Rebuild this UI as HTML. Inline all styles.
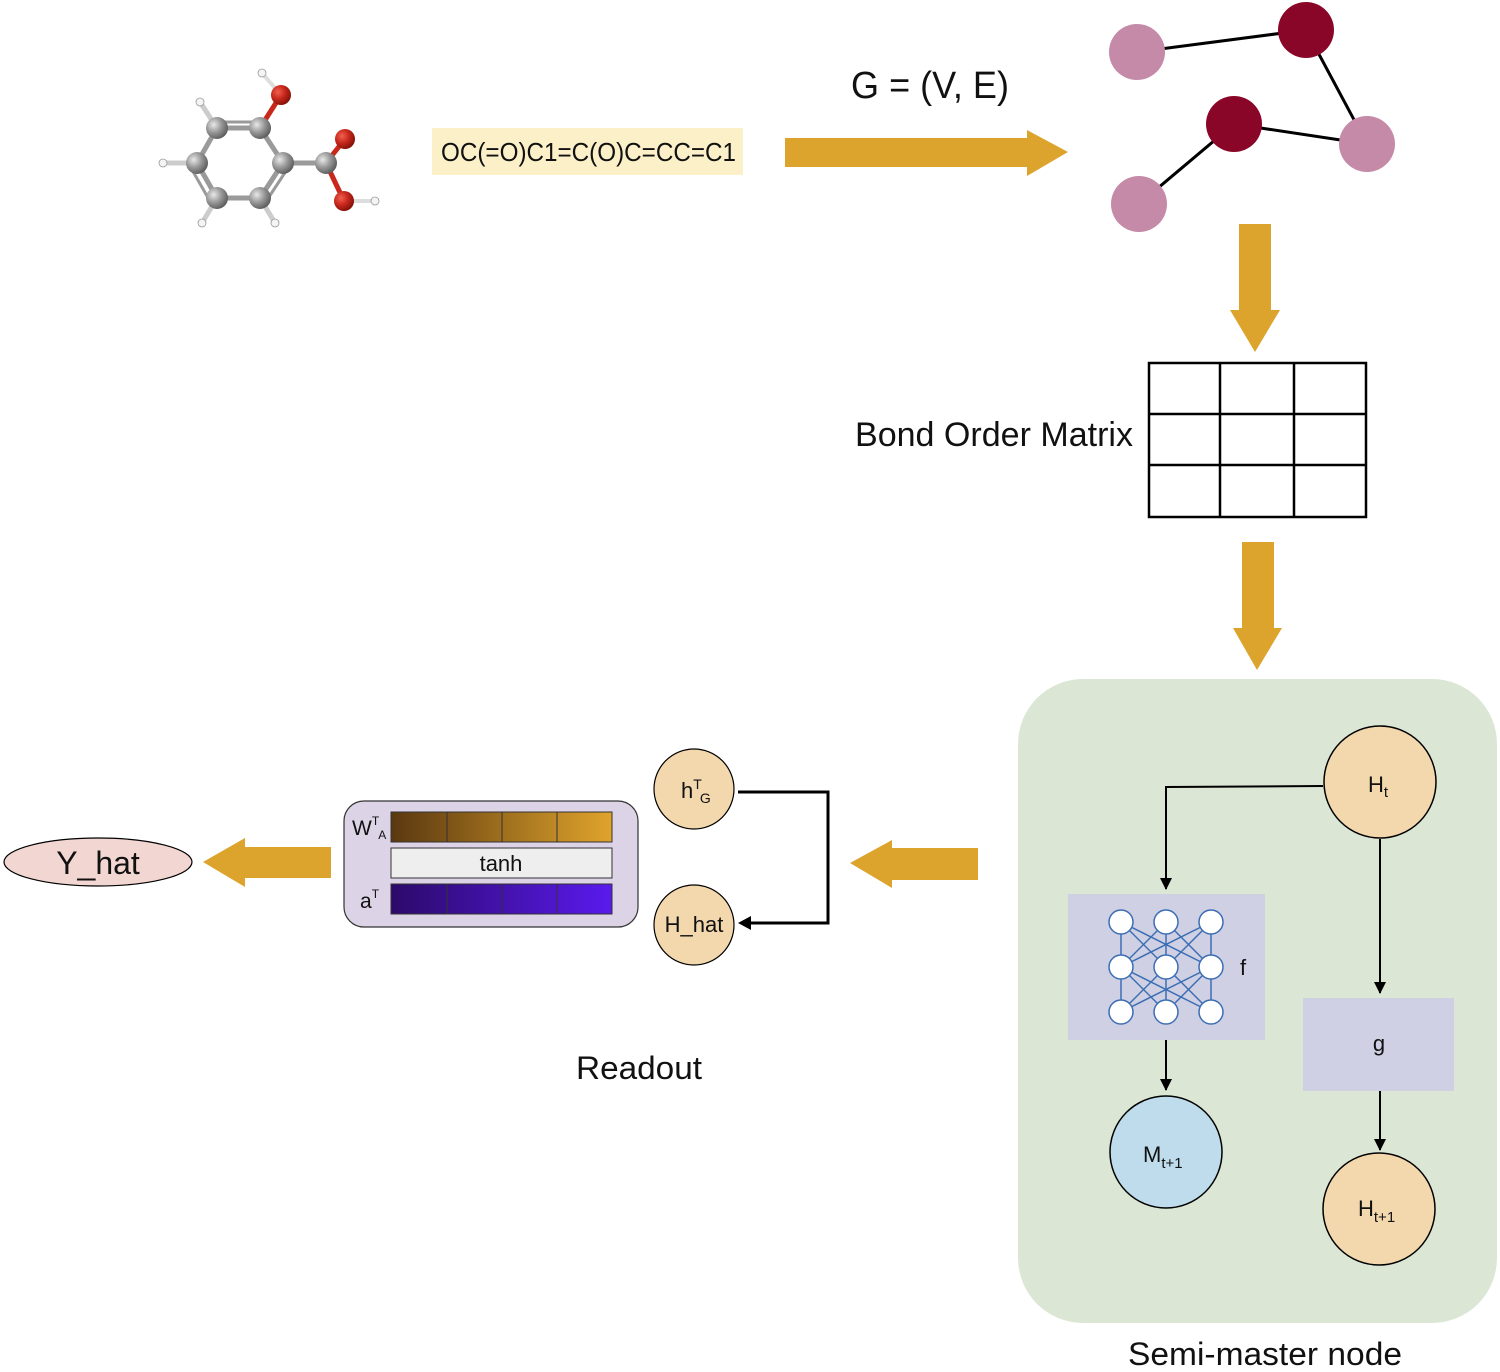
<!DOCTYPE html>
<html><head><meta charset="utf-8"><style>
html,body{margin:0;padding:0;background:#fff;}
svg{display:block;}
text{font-family:"Liberation Sans",sans-serif;fill:#111;}
</style></head><body>
<svg width="1500" height="1372" viewBox="0 0 1500 1372" xmlns="http://www.w3.org/2000/svg">
<defs>
<radialGradient id="gc" cx="0.35" cy="0.35" r="0.7"><stop offset="0" stop-color="#e8e8e8"/><stop offset="0.5" stop-color="#9a9a9a"/><stop offset="1" stop-color="#5a5a5a"/></radialGradient>
<radialGradient id="go" cx="0.35" cy="0.35" r="0.7"><stop offset="0" stop-color="#f06050"/><stop offset="0.5" stop-color="#c8281c"/><stop offset="1" stop-color="#801008"/></radialGradient>
<linearGradient id="gw" x1="0" x2="1"><stop offset="0" stop-color="#5a3810"/><stop offset="1" stop-color="#e0a42c"/></linearGradient>
<linearGradient id="ga" x1="0" x2="1"><stop offset="0" stop-color="#2c0a6a"/><stop offset="1" stop-color="#5a1aee"/></linearGradient>
<marker id="ar" markerWidth="12" markerHeight="12" refX="11" refY="6" orient="auto" markerUnits="userSpaceOnUse"><path d="M0,0 L12,6 L0,12z" fill="#000"/></marker>
</defs>

<!-- molecule -->
<g stroke="#9a9a9a" stroke-width="5" fill="none">
<line x1="217" y1="128" x2="260" y2="128"/><line x1="217" y1="122" x2="260" y2="122" stroke-width="3"/>
<line x1="260" y1="128" x2="283" y2="163"/><line x1="283" y1="163" x2="260" y2="198"/><line x1="288" y1="168" x2="265" y2="203" stroke-width="3"/>
<line x1="260" y1="198" x2="217" y2="198"/><line x1="217" y1="198" x2="197" y2="163"/><line x1="211" y1="203" x2="191" y2="168" stroke-width="3"/>
<line x1="197" y1="163" x2="217" y2="128"/>
<line x1="283" y1="163" x2="326" y2="163"/>
<line x1="217" y1="128" x2="200" y2="102" stroke="#ccc"/><line x1="197" y1="163" x2="163" y2="163" stroke="#ccc"/>
<line x1="217" y1="198" x2="202" y2="223" stroke="#ccc"/><line x1="260" y1="198" x2="275" y2="223" stroke="#ccc"/>
</g>
<g stroke="#c8281c" stroke-width="5"><line x1="260" y1="128" x2="281" y2="95"/><line x1="326" y1="163" x2="345" y2="139"/><line x1="326" y1="163" x2="344" y2="201"/></g>
<g stroke="#ddd" stroke-width="4"><line x1="281" y1="95" x2="262" y2="73"/><line x1="344" y1="201" x2="375" y2="201"/></g>
<g fill="url(#gc)"><circle cx="217" cy="128" r="11"/><circle cx="260" cy="128" r="11"/><circle cx="283" cy="163" r="11"/><circle cx="260" cy="198" r="11"/><circle cx="217" cy="198" r="11"/><circle cx="197" cy="163" r="11"/><circle cx="326" cy="163" r="11"/></g>
<g fill="url(#go)"><circle cx="281" cy="95" r="10"/><circle cx="345" cy="139" r="10"/><circle cx="344" cy="201" r="10"/></g>
<g fill="#f4f4f4" stroke="#999" stroke-width="0.8"><circle cx="262" cy="73" r="4"/><circle cx="200" cy="102" r="4"/><circle cx="163" cy="163" r="4"/><circle cx="202" cy="223" r="4"/><circle cx="275" cy="223" r="4"/><circle cx="375" cy="201" r="4"/></g>

<!-- SMILES -->
<rect x="432" y="128" width="311" height="47" fill="#fcf0c9"/>
<text x="441" y="161" font-size="26" textLength="295" lengthAdjust="spacingAndGlyphs">OC(=O)C1=C(O)C=CC=C1</text>

<!-- arrow right -->
<path d="M785,138 H1027 V130 L1068,152 L1027,176 V167 H785z" fill="#dca42c"/>
<text x="930" y="98" font-size="38" text-anchor="middle" textLength="158" lengthAdjust="spacingAndGlyphs">G = (V, E)</text>

<!-- graph -->
<g stroke="#000" stroke-width="3"><line x1="1137" y1="52" x2="1306" y2="30"/><line x1="1306" y1="30" x2="1367" y2="144"/><line x1="1234" y1="124" x2="1367" y2="144"/><line x1="1234" y1="124" x2="1139" y2="204"/></g>
<g fill="#c48aa8"><circle cx="1137" cy="52" r="28"/><circle cx="1367" cy="144" r="28"/><circle cx="1139" cy="204" r="28"/></g>
<g fill="#8a0629"><circle cx="1306" cy="30" r="28"/><circle cx="1234" cy="124" r="28"/></g>

<!-- down arrows -->
<path d="M1239,224 H1271 V310 H1280 L1255,352 L1230,310 H1239z" fill="#dca42c"/>
<path d="M1242,542 H1274 V628 H1282 L1257,670 L1233,628 H1242z" fill="#dca42c"/>

<!-- matrix -->
<g stroke="#000" stroke-width="2.5" fill="none"><rect x="1149" y="363" width="217" height="154"/><line x1="1220" y1="363" x2="1220" y2="517"/><line x1="1294" y1="363" x2="1294" y2="517"/><line x1="1149" y1="414" x2="1366" y2="414"/><line x1="1149" y1="465" x2="1366" y2="465"/></g>
<text x="1133" y="446" font-size="34" text-anchor="end" textLength="278" lengthAdjust="spacingAndGlyphs">Bond Order Matrix</text>

<!-- green box -->
<rect x="1018" y="679" width="479" height="644" rx="65" fill="#dbe7d4"/>
<rect x="1068" y="894" width="197" height="146" fill="#cfd0e3"/>
<rect x="1303" y="998" width="151" height="93" fill="#cfd0e3"/>
<g stroke="#3c6eb4" stroke-width="1.5">
<line x1="1121" y1="922" x2="1121" y2="967"/><line x1="1121" y1="922" x2="1166" y2="967"/><line x1="1121" y1="922" x2="1211" y2="967"/>
<line x1="1166" y1="922" x2="1121" y2="967"/><line x1="1166" y1="922" x2="1166" y2="967"/><line x1="1166" y1="922" x2="1211" y2="967"/>
<line x1="1211" y1="922" x2="1121" y2="967"/><line x1="1211" y1="922" x2="1166" y2="967"/><line x1="1211" y1="922" x2="1211" y2="967"/>
<line x1="1121" y1="967" x2="1121" y2="1012"/><line x1="1121" y1="967" x2="1166" y2="1012"/><line x1="1121" y1="967" x2="1211" y2="1012"/>
<line x1="1166" y1="967" x2="1121" y2="1012"/><line x1="1166" y1="967" x2="1166" y2="1012"/><line x1="1166" y1="967" x2="1211" y2="1012"/>
<line x1="1211" y1="967" x2="1121" y2="1012"/><line x1="1211" y1="967" x2="1166" y2="1012"/><line x1="1211" y1="967" x2="1211" y2="1012"/>
</g>
<g fill="#fff" stroke="#3c6eb4" stroke-width="1.5">
<circle cx="1121" cy="922" r="12"/><circle cx="1166" cy="922" r="12"/><circle cx="1211" cy="922" r="12"/>
<circle cx="1121" cy="967" r="12"/><circle cx="1166" cy="967" r="12"/><circle cx="1211" cy="967" r="12"/>
<circle cx="1121" cy="1012" r="12"/><circle cx="1166" cy="1012" r="12"/><circle cx="1211" cy="1012" r="12"/>
</g>
<text x="1243" y="975" font-size="22" text-anchor="middle">f</text>
<text x="1379" y="1051" font-size="22" text-anchor="middle">g</text>

<g stroke="#000" stroke-width="2" fill="none">
<path d="M1323,786 L1166,787 V889" marker-end="url(#ar)"/>
<path d="M1380,839 V993" marker-end="url(#ar)"/>
<path d="M1166,1040 V1090" marker-end="url(#ar)"/>
<path d="M1380,1091 V1150" marker-end="url(#ar)"/>
</g>
<g stroke="#000" stroke-width="1.5">
<circle cx="1380" cy="782" r="56" fill="#f3d8ae"/>
<circle cx="1166" cy="1152" r="56" fill="#bfdcec"/>
<circle cx="1379" cy="1209" r="56" fill="#f3d8ae"/>
</g>
<text x="1368" y="792" font-size="22">H<tspan font-size="15" dy="5">t</tspan></text>
<text x="1143" y="1162" font-size="22">M<tspan font-size="15" dy="6">t+1</tspan></text>
<text x="1358" y="1216" font-size="22">H<tspan font-size="15" dy="6">t+1</tspan></text>

<!-- left arrows -->
<path d="M978,848 V880 H892 V888 L850,863 L892,840 V848z" fill="#dca42c"/>
<path d="M331,847 V878 H245 V887 L203,862 L245,838 V847z" fill="#dca42c"/>

<!-- hTG / H_hat -->
<path d="M738,792 H828 V923 H745" stroke="#000" stroke-width="3" fill="none"/>
<path d="M738,923 L751,916 L751,930z" fill="#000"/>
<circle cx="694" cy="789" r="40" fill="#f3d8ae" stroke="#000" stroke-width="1.2"/>
<circle cx="694" cy="925" r="40" fill="#f3d8ae" stroke="#000" stroke-width="1.2"/>
<text x="681" y="798" font-size="22">h<tspan font-size="14" dy="-9">T</tspan><tspan font-size="14" dx="-2" dy="14">G</tspan></text>
<text x="694" y="932" font-size="22" text-anchor="middle">H_hat</text>

<!-- readout box -->
<rect x="344" y="801" width="294" height="126" rx="20" fill="#dcd3e6" stroke="#333" stroke-width="1.2"/>
<rect x="391" y="812" width="221" height="30" fill="url(#gw)" stroke="#333" stroke-width="1"/>
<g stroke="#333" stroke-width="1"><line x1="447" y1="812" x2="447" y2="842"/><line x1="502" y1="812" x2="502" y2="842"/><line x1="557" y1="812" x2="557" y2="842"/></g>
<rect x="391" y="848" width="221" height="30" fill="#eeeeee" stroke="#333" stroke-width="1"/>
<text x="501" y="871" font-size="22" text-anchor="middle">tanh</text>
<rect x="391" y="884" width="221" height="30" fill="url(#ga)" stroke="#333" stroke-width="1"/>
<g stroke="#333" stroke-width="1"><line x1="447" y1="884" x2="447" y2="914"/><line x1="502" y1="884" x2="502" y2="914"/><line x1="557" y1="884" x2="557" y2="914"/></g>
<text x="352" y="835" font-size="21">W<tspan font-size="12" dy="-10">T</tspan><tspan font-size="12" dy="14">A</tspan></text>
<text x="360" y="908" font-size="21">a<tspan font-size="12" dy="-10">T</tspan></text>

<!-- Y_hat -->
<ellipse cx="98" cy="862" rx="94" ry="24" fill="#f2d6d2" stroke="#000" stroke-width="1.2"/>
<text x="98" y="874" font-size="32" text-anchor="middle">Y_hat</text>

<text x="639" y="1079" font-size="32" text-anchor="middle" textLength="126" lengthAdjust="spacingAndGlyphs">Readout</text>
<text x="1265" y="1365" font-size="32" text-anchor="middle" textLength="274" lengthAdjust="spacingAndGlyphs">Semi-master node</text>
</svg>
</body></html>
